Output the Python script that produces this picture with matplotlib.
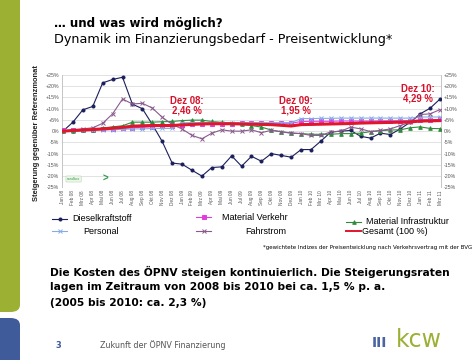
#!/usr/bin/env python3

import numpy as np
import matplotlib
matplotlib.use("Agg")
import matplotlib.pyplot as plt
from matplotlib.lines import Line2D
from matplotlib.patches import FancyBboxPatch

W, H = 474, 360

mon = ["Jan", "Feb", "Mrz", "Apr", "Mai", "Jun", "Jul", "Aug", "Sep", "Okt", "Nov", "Dez"]
months = ["%s %s" % (m, y) for y in ["08", "09", "10"] for m in mon] + ["Jan 11", "Feb 11", "Mrz 11"]

diesel = [0, 4, 9.5, 11, 21.5, 23, 24, 12, 10, 3, -4.6, -14.2,
          -14.7, -17.4, -20, -16.2, -15.9, -11, -15.6, -11.2, -13.4, -10, -10.8, -11.6,
          -8.2, -8.2, -4.4, -0.4, 0, 0.3, -2.3, -3.1, -0.9, -1.5, 1, 4,
          7.7, 10.2, 14.3]
mat_verkehr = [0.3, 0.3, 0.5, 0.7, 0.9, 1.0, 1.2, 1.5, 1.7, 2.0, 2.2, 2.3,
               2.8, 3.0, 3.0, 3.2, 3.3, 3.4, 3.5, 3.5, 3.5, 3.5, 3.5, 3.5,
               4.3, 4.4, 4.4, 4.4, 4.5, 4.5, 4.5, 4.5, 4.6, 4.6, 4.6, 4.6,
               5.0, 5.1, 5.2]
mat_infra = [0, 0, 0.3, 0.6, 1.4, 1.9, 2.4, 4.0, 4.0, 4.0, 4.2, 4.3,
             4.7, 4.9, 4.9, 4.3, 3.9, 3.6, 3.0, 2.5, 1.8, 0.5, -0.3, -0.8,
             -1.1, -1.4, -1.4, -1.4, -1.1, -1.1, -0.9, -0.2, 0.2, 0.5, 0.6, 1.5,
             1.9, 1.2, 1.1]
personal = [0, 0.3, 0.3, 0.5, 0.5, 0.6, 0.8, 1.0, 1.0, 1.2, 1.2, 1.2,
            3.8, 3.8, 3.8, 3.8, 3.8, 3.8, 3.8, 3.8, 3.8, 3.8, 3.8, 3.8,
            5.6, 5.6, 5.7, 5.7, 5.8, 5.8, 5.8, 5.8, 5.8, 5.8, 5.8, 5.8,
            6.3, 6.3, 6.3]
fahrstrom = [0, 0.5, 1, 1.5, 3.5, 7.7, 14.3, 12.1, 12.4, 10.3, 6.2, 3.0,
             1.0, -1.9, -3.4, -0.9, 0.6, 0, 0, 0.6, -0.7, 0.4, -0.3, -0.9,
             -1.1, -1.9, -1.9, -0.3, 0, 1.8, 1.0, -0.2, 0.3, 1.0, 2.5, 4.0,
             7.4, 7.7, 9.6]
gesamt = [0, 0.3, 0.5, 0.7, 1.0, 1.3, 1.7, 2.2, 2.4, 2.5, 2.5, 2.5,
          2.8, 3.0, 3.2, 3.3, 3.3, 3.3, 3.2, 3.1, 3.0, 2.9, 2.6, 2.3,
          2.9, 3.0, 3.1, 3.2, 3.3, 3.4, 3.6, 3.7, 3.8, 3.9, 4.0, 4.1,
          4.5, 4.6, 4.7]

yticks = [25, 20, 15, 10, 5, 0, -5, -10, -15, -20, -25]
ytick_labels = ["+%d%%" % v if v > 0 else "%d%%" % v for v in yticks]

notes = [("Dez 08:\n2,46 %", 12.5, 6.9), ("Dez 09:\n1,95 %", 23.5, 6.9), ("Dez 10:\n4,29 %", 35.8, 12.2)]

series = [
    ("Dieselkraftstoff", diesel, "#1b1f5c", "o", 2.2, 0.8),
    ("Material Verkehr", mat_verkehr, "#e23ce0", "s", 2.4, 0.8),
    ("Material Infrastruktur", mat_infra, "#2f8a3c", "^", 2.6, 0.8),
    ("Personal", personal, "#86aee6", "x", 2.6, 0.8),
    ("Fahrstrom", fahrstrom, "#8a5a8e", "x", 2.6, 0.8),
    ("Gesamt (100 %)", gesamt, "#e0162b", None, 0, 2.2),
]

arial = "Liberation Sans"
verd = "DejaVu Sans"

fig = plt.figure(figsize=(W / 100, H / 100), dpi=100)
fig.patch.set_facecolor("white")


def fx(px):
    return px / W


def fy(py):
    return 1 - py / H


# side bars
fig.add_artist(FancyBboxPatch((fx(-10), fy(312)), fx(30), fy(-10) - fy(312),
                              boxstyle="round,pad=0,rounding_size=0.02",
                              transform=fig.transFigure, fc="#9cb034", ec="none"))
fig.add_artist(FancyBboxPatch((fx(-10), fy(370)), fx(30), fy(318) - fy(370),
                              boxstyle="round,pad=0,rounding_size=0.02",
                              transform=fig.transFigure, fc="#3f5b9a", ec="none"))

fig.text(fx(54), fy(24), "… und was wird möglich?", family=verd, weight="bold",
         fontsize=8.6, va="center", ha="left")
fig.text(fx(54), fy(40), "Dynamik im Finanzierungsbedarf - Preisentwicklung*", family=verd,
         fontsize=9.2, va="center", ha="left")

ax = fig.add_axes([fx(62), fy(187.3), fx(441) - fx(62), fy(75) - fy(187.3)])
x = np.arange(len(months))
for name, vals, col, mk, ms, lw in series:
    ax.plot(x, vals, color=col, marker=mk, markersize=ms, linewidth=lw,
            markeredgewidth=0.7, label=name, zorder=3 if mk else 4)

ax.set_xlim(-0.1, len(months) - 0.9)
ax.set_ylim(-25, 25)
ax.set_yticks(yticks)
ax.set_yticklabels(ytick_labels, family=arial, fontsize=3.8, color="#555555")
ax.tick_params(axis="y", length=0, pad=2, labelright=True)
ax.set_xticks(x)
ax.set_xticklabels(months, rotation=90, family=arial, fontsize=3.4, color="#555555")
ax.tick_params(axis="x", length=0, pad=2)
ax.grid(axis="y", color="#dddddd", linewidth=0.6)
ax.set_axisbelow(True)
for s in ["top", "bottom"]:
    ax.spines[s].set_visible(False)
for s in ["left", "right"]:
    ax.spines[s].set_color("#bbbbbb")
    ax.spines[s].set_linewidth(0.6)

for txt, xi, yv in notes:
    ax.text(xi, yv, txt, color="#d8102a", weight="bold", family=arial, fontsize=6.9,
            ha="center", va="bottom", linespacing=1.0)

# small watermark
ax.text(0.4, -21.3, "sandbox", family=arial, fontsize=2.5, color="#2e9a4a", va="center",
        bbox=dict(boxstyle="round,pad=0.3", fc="#eef6ea", ec="#b8d8b0", lw=0.4))
ax.text(4.0, -21.3, ">", family=arial, weight="bold", fontsize=7, color="#2e9a4a", va="center")

fig.text(fx(37), fy(133), "Steigerung gegenüber Referenzmonat", rotation=90, family=arial,
         weight="bold", fontsize=5.4, ha="center", va="center", color="#222222")

# legend
leg = [
    (0, 52, 219, 72), (3, 52, 231, 83),
    (1, 196, 217, 222), (4, 196, 231, 245),
    (2, 346, 222, 366), (5, 346, 231, 362),
]
for i, lx, ly, tx in leg:
    name, vals, col, mk, ms, lw = series[i]
    fig.add_artist(Line2D([fx(lx), fx(lx + 15)], [fy(ly), fy(ly)], transform=fig.transFigure,
                          color=col, linewidth=min(lw, 1.4)))
    if mk:
        fig.add_artist(Line2D([fx(lx + 7.5)], [fy(ly)], transform=fig.transFigure,
                              color=col, marker=mk, markersize=ms, markeredgewidth=0.7))
    fig.text(fx(tx), fy(ly), name, family=arial, fontsize=6.5, va="center", ha="left")

fig.text(fx(472), fy(248), "*gewichtete Indizes der Preisentwicklung nach Verkehrsvertrag mit der BVG",
         family=verd, fontsize=4.0, ha="right", va="center")

body = ["Die Kosten des ÖPNV steigen kontinuierlich. Die Steigerungsraten",
        "lagen im Zeitraum von 2008 bis 2010 bei ca. 1,5 % p. a.",
        "(2005 bis 2010: ca. 2,3 %)"]
for k, line in enumerate(body):
    fig.text(fx(50), fy(272 + k * 15.5), line, family=verd, weight="bold", fontsize=7.7,
             va="center", ha="left")

fig.text(fx(55), fy(345), "3", family=verd, weight="bold", fontsize=6, color="#3f5b9a",
         va="center")
fig.text(fx(100), fy(345), "Zukunft der ÖPNV Finanzierung", family=verd, fontsize=5.8,
         color="#555555", va="center")
fig.text(fx(372), fy(343), "III", family=verd, weight="bold", fontsize=10, color="#4a64a4",
         va="center")
fig.text(fx(396), fy(340), "kcw", family=verd, fontsize=17, color="#9cb034", va="center")

fig.savefig("out.png", dpi=100)
